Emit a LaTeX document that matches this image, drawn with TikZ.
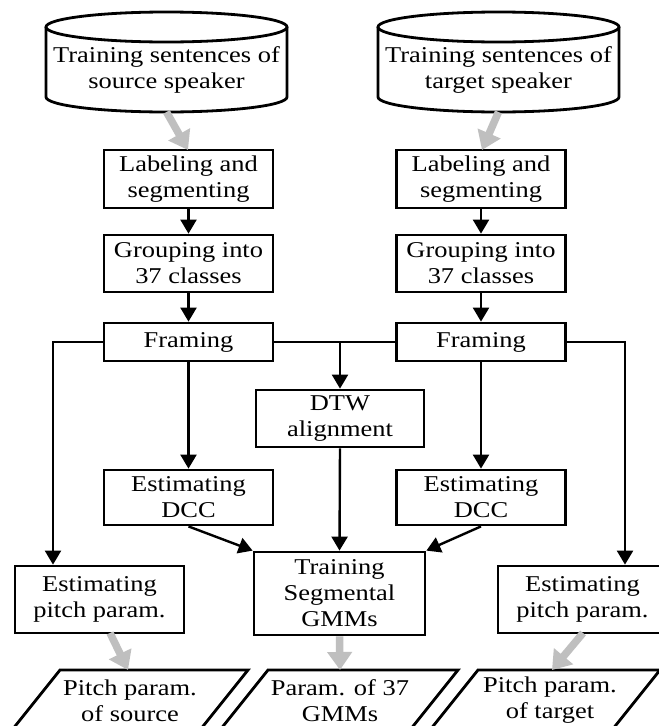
\documentclass[tikz,border=0pt]{standalone}
\usepackage{fontspec}
\setmainfont{Liberation Serif}[FakeStretch=1.17]
\usetikzlibrary{arrows.meta}
\begin{document}
\begin{tikzpicture}[x=1pt,y=-1pt,
  every node/.style={font=\fontsize{22.6}{26}\selectfont, align=center, inner sep=0pt},
  box/.style={draw, line width=2.8pt, minimum width=169pt},
  arr/.style={line width=2.4pt, -{Triangle[width=16pt,length=14pt]}},
  ln/.style={line width=2.4pt},
  garr/.style={draw=gray!50, line width=7.5pt, -{Triangle[width=24pt,length=18pt]}},
  shp/.style={line width=2.8pt}]
\fill[white] (0,0) rectangle (659,726);
\useasboundingbox (0,0) rectangle (659,726);
\clip (0,0) rectangle (659,726);

% databases
\draw[shp] (46,27) -- (46,97) arc[start angle=180,end angle=0,x radius=120.5,y radius=15] -- (287,27);
\draw[shp] (166.5,27) ellipse[x radius=120.5,y radius=15];
\node (srcdb) at (166.5,70) {Training sentences of\\source speaker};
\coordinate (srcbot) at (166.5,112);

\draw[shp] (378,27) -- (378,97) arc[start angle=180,end angle=0,x radius=120.5,y radius=15] -- (619,27);
\draw[shp] (498.5,27) ellipse[x radius=120.5,y radius=15];
\node (tgtdb) at (498.5,70) {Training sentences of\\target speaker};
\coordinate (tgtbot) at (498.5,112);

% left column
\node[box, minimum height=58pt] (labL) at (188.5,179) {Labeling and\\segmenting};
\node[box, minimum height=57pt] (grpL) at (188.5,263.5) {Grouping into\\37 classes};
\node[box, minimum height=38pt] (frmL) at (188.5,342) {Framing};
\node[box, minimum height=55pt] (dccL) at (188.5,497.5) {Estimating\\DCC};

% right column
\node[box, minimum height=58pt] (labR) at (481,179) {Labeling and\\segmenting};
\node[box, minimum height=57pt] (grpR) at (481,263.5) {Grouping into\\37 classes};
\node[box, minimum height=38pt] (frmR) at (481,342) {Framing};
\node[box, minimum height=55pt] (dccR) at (481,497.5) {Estimating\\DCC};

% middle
\node[box, minimum width=168pt, minimum height=57pt] (dtw) at (340,418.5) {DTW\\alignment};
\node[box, minimum width=171pt, minimum height=83pt] (train) at (339.5,593.5) {Training\\Segmental\\GMMs};

% pitch
\node[box, minimum height=67pt] (pitchL) at (99.5,599.5) {Estimating\\pitch param.};
\node[box, minimum height=67pt] (pitchR) at (582.5,599.5) {Estimating\\pitch param.};

% outputs
\draw[shp] (60,670) -- (248,670) -- (188,745) -- (0,745) -- cycle;
\node (outL) at (130,700.5) {Pitch param.\\of source};
\draw[shp] (268,670) -- (458,670) -- (398,745) -- (208,745) -- cycle;
\node (outM) at (340,700.5) {Param. of 37\\GMMs};
\draw[shp] (478,670) -- (660,670) -- (600,745) -- (418,745) -- cycle;
\node (outR) at (550,700.5) {Pitch param.\\of target};

\coordinate (lcorner) at (53,342);
\coordinate (rcorner) at (625,342);
\coordinate (pLbot) at (110,633);
\coordinate (pRbot) at (583,633);
\coordinate (inL) at (128,670);
\coordinate (inM) at (340,670);
\coordinate (inR) at (552,670);
\coordinate (lTop) at (188,150);
\coordinate (rTop) at (482,150);

% connectors
\draw[garr] (srcbot) -- (lTop);
\draw[garr] (tgtbot) -- (rTop);
\draw[arr] (labL.south) -- (grpL.north);
\draw[arr] (grpL.south) -- (frmL.north);
\draw[arr] (labR.south) -- (grpR.north);
\draw[arr] (grpR.south) -- (frmR.north);
\draw[arr] (frmL.south) -- (dccL.north);
\draw[arr] (frmR.south) -- (dccR.north);
\draw[ln] (frmL.east) -- (frmR.west);
\draw[arr] (frmL.east -| dtw.north) -- (dtw.north);
\draw[arr] (frmL.west) -- (lcorner) -- (lcorner |- pitchL.north);
\draw[arr] (frmR.east) -- (rcorner) -- (rcorner |- pitchR.north);
\draw[arr] (dtw.south) -- (train.north);
\draw[arr] (dccL.south) -- (train.north west);
\draw[arr] (dccR.south) -- (train.north east);
\draw[garr] (pLbot) -- (inL);
\draw[garr] (train.south) -- (inM);
\draw[garr] (pRbot) -- (inR);
\end{tikzpicture}
\end{document}
